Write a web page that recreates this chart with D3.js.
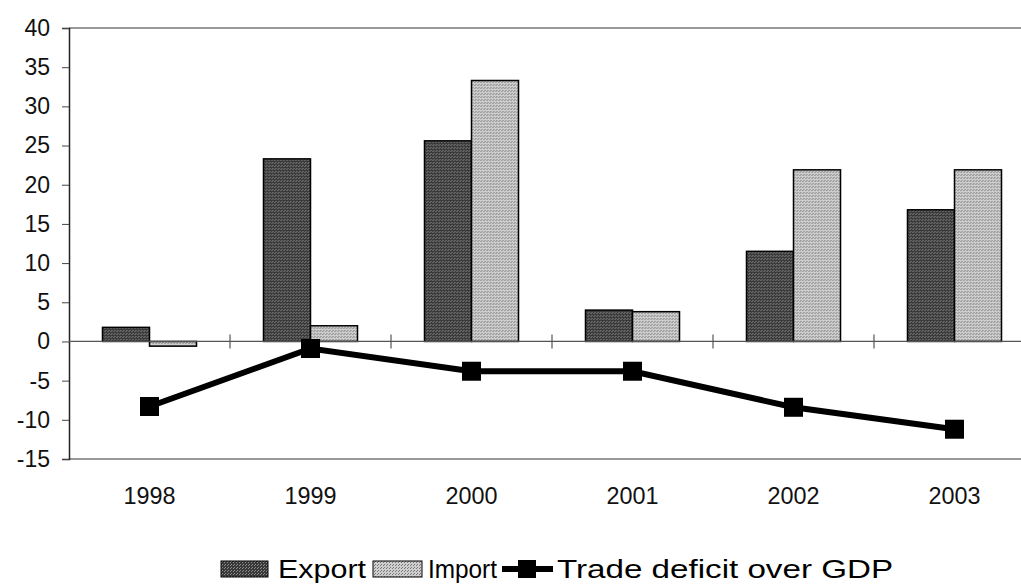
<!DOCTYPE html>
<html>
<head>
<meta charset="utf-8">
<script src="https://cdn.jsdelivr.net/npm/d3@7"></script>
<style>
  body { margin: 0; background: #fff; }
  svg { display: block; font-family: "Liberation Sans", Arial, sans-serif; }
</style>
</head>
<body>
<svg id="chart" width="1021" height="585"></svg>
<script>
const years = ["1998", "1999", "2000", "2001", "2002", "2003"];
const exportValues = [1.8, 23.3, 25.6, 4.0, 11.5, 16.8];
const importValues = [-0.6, 2.0, 33.3, 3.8, 21.9, 21.9];
const deficitValues = [-8.3, -0.9, -3.8, -3.8, -8.4, -11.2];
const yTicks = [40, 35, 30, 25, 20, 15, 10, 5, 0, -5, -10, -15];
const seriesNames = ["Export", "Import"];

function drawChart() {
  const svg = d3.select("#chart");

  const left = 69, top = 28, bottom = 459;
  const right = 69 + 161 * years.length; // plot runs past the right edge

  // dithered fills, like the scanned original
  const defs = svg.append("defs");
  const pat = (id, base, dot) => {
    const p = defs.append("pattern").attr("id", id)
      .attr("width", 3).attr("height", 3).attr("patternUnits", "userSpaceOnUse");
    p.append("rect").attr("width", 3).attr("height", 3).attr("fill", base);
    p.append("rect").attr("width", 1).attr("height", 1).attr("fill", dot);
    p.append("rect").attr("x", 2).attr("y", 1).attr("width", 1).attr("height", 1).attr("fill", dot);
  };
  pat("expFill", "#3a3a3a", "#8a8a8a");
  pat("impFill", "#cdcdcd", "#7a7a7a");

  const x0 = d3.scaleBand().domain(years).range([left, right])
    .paddingInner(0.416).paddingOuter(0.208);
  const x1 = d3.scaleBand().domain(seriesNames).range([0, x0.bandwidth()]);
  const y = d3.scaleLinear().domain([-15, 40]).range([bottom, top]);
  const step = x0.step();

  // frame lines
  svg.append("line").attr("x1", left).attr("x2", 1021).attr("y1", y(40)).attr("y2", y(40))
    .attr("stroke", "#777").attr("stroke-width", 1.5);
  svg.append("line").attr("x1", left).attr("x2", 1021).attr("y1", y(-15)).attr("y2", y(-15))
    .attr("stroke", "#777").attr("stroke-width", 1.5);

  // y axis
  const yAxis = d3.axisLeft(y).tickValues(yTicks).tickSize(7).tickPadding(12)
    .tickFormat((d) => String(d));
  const gy = svg.append("g").attr("transform", `translate(${left},0)`).call(yAxis);
  gy.select(".domain").attr("stroke", "#222").attr("stroke-width", 1.5);
  gy.selectAll(".tick line").attr("stroke", "#444");
  gy.selectAll(".tick text").attr("font-size", 23).attr("fill", "#111")
    .attr("font-family", "Liberation Sans, Arial, sans-serif");

  // bars
  const groups = svg.append("g").selectAll("g").data(years).join("g")
    .attr("transform", (d) => `translate(${x0(d)},0)`);
  groups.selectAll("rect")
    .data((d, i) => [
      { key: "Export", value: exportValues[i] },
      { key: "Import", value: importValues[i] },
    ])
    .join("rect")
    .attr("x", (d) => x1(d.key))
    .attr("width", x1.bandwidth())
    .attr("y", (d) => y(Math.max(0, d.value)))
    .attr("height", (d) => Math.abs(y(d.value) - y(0)))
    .attr("fill", (d) => d.key === "Export" ? "url(#expFill)" : "url(#impFill)")
    .attr("stroke", "#000").attr("stroke-width", 1.5);

  // zero line with category ticks
  svg.append("line").attr("x1", left).attr("x2", 1021).attr("y1", y(0)).attr("y2", y(0))
    .attr("stroke", "#555").attr("stroke-width", 1.2);
  svg.append("g").selectAll("line").data(d3.range(1, years.length)).join("line")
    .attr("x1", (i) => left + i * step).attr("x2", (i) => left + i * step)
    .attr("y1", y(0) - 7).attr("y2", y(0) + 7)
    .attr("stroke", "#555").attr("stroke-width", 1.2);

  // x labels
  svg.append("g").selectAll("text").data(years).join("text")
    .attr("x", (d) => x0(d) + x0.bandwidth() / 2)
    .attr("y", 504)
    .attr("text-anchor", "middle")
    .attr("font-size", 23).attr("fill", "#111")
    .attr("textLength", 52).attr("lengthAdjust", "spacingAndGlyphs")
    .text((d) => d);

  // deficit line
  const cx = (i) => x0(years[i]) + x0.bandwidth() / 2;
  const line = d3.line().x((d, i) => cx(i)).y((d) => y(d));
  svg.append("path").datum(deficitValues).attr("d", line)
    .attr("fill", "none").attr("stroke", "#000").attr("stroke-width", 6);
  svg.append("g").selectAll("rect").data(deficitValues).join("rect")
    .attr("x", (d, i) => cx(i) - 9.5).attr("y", (d) => y(d) - 9.5)
    .attr("width", 19).attr("height", 19).attr("fill", "#000");

  // legend
  const lg = svg.append("g");
  const ly = 569;
  const ty = ly + 9;
  lg.append("rect").attr("x", 221).attr("y", ly - 8).attr("width", 47).attr("height", 16)
    .attr("fill", "url(#expFill)").attr("stroke", "#000").attr("stroke-width", 1);
  lg.append("text").attr("x", 278).attr("y", ty).attr("font-size", 26)
    .attr("textLength", 88).attr("lengthAdjust", "spacingAndGlyphs").text("Export");
  lg.append("rect").attr("x", 373).attr("y", ly - 8).attr("width", 49).attr("height", 16)
    .attr("fill", "url(#impFill)").attr("stroke", "#000").attr("stroke-width", 1);
  lg.append("text").attr("x", 428).attr("y", ty).attr("font-size", 26)
    .attr("textLength", 69).attr("lengthAdjust", "spacingAndGlyphs").text("Import");
  lg.append("line").attr("x1", 502).attr("x2", 553).attr("y1", ly).attr("y2", ly)
    .attr("stroke", "#000").attr("stroke-width", 6);
  lg.append("rect").attr("x", 518).attr("y", ly - 9).attr("width", 18).attr("height", 18)
    .attr("fill", "#000");
  lg.append("text").attr("x", 557).attr("y", ty).attr("font-size", 26)
    .attr("textLength", 336).attr("lengthAdjust", "spacingAndGlyphs").text("Trade deficit over GDP");
}

drawChart();
</script>
</body>
</html>
